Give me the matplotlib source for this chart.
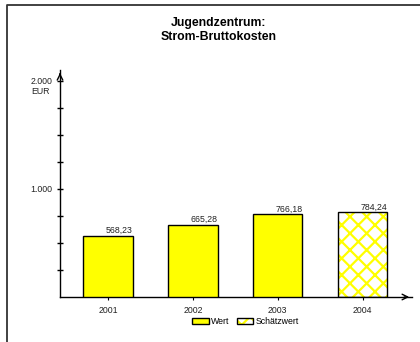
import matplotlib
matplotlib.use('Agg')
import matplotlib.pyplot as plt
from matplotlib.patches import Patch
from matplotlib.lines import Line2D
from matplotlib.legend_handler import HandlerTuple

# Daten
years = ['2001', '2002', '2003', '2004']
values = [568.23, 665.28, 766.18, 784.24]
estimated = [False, False, False, True]
value_labels = ['568,23', '665,28', '766,18', '784,24']
ytick_values = [1000, 2000]
ytick_labels = ['1.000', '2.000']


def main():
    plt.rcParams['font.family'] = ['Liberation Sans', 'DejaVu Sans']
    plt.rcParams['hatch.linewidth'] = 1.6

    fig = plt.figure(figsize=(4.2, 3.42), dpi=100)
    ax = fig.add_axes([60 / 420, 45 / 342, 352 / 420, 226.8 / 342])

    # Rahmen um die Grafik (nur oben und links sichtbar)
    fx, fy = 7 / 420, 1 - 4.5 / 342
    fig.add_artist(Line2D([fx, fx, 1.0], [0, fy, fy], transform=fig.transFigure,
                          color='#333333', lw=1.3))

    x = list(range(len(years)))
    width = 0.58
    for xi, v, est in zip(x, values, estimated):
        if est:
            ax.bar(xi, v, width, color='white', hatch='xx',
                   edgecolor='#ffff00', linewidth=0, zorder=2)
            ax.bar(xi, v, width, fill=False, edgecolor='black',
                   linewidth=1.0, zorder=3)
        else:
            ax.bar(xi, v, width, color='#ffff00', edgecolor='black',
                   linewidth=1.0, zorder=3)

    for xi, v, lab in zip(x, values, value_labels):
        ax.text(xi + width / 2, v + 8, lab, ha='right', va='bottom',
                fontsize=6.3, color='#222222')

    ax.set_xlim(-0.565, 3.58)
    ax.set_ylim(0, 2100)

    # Achsen
    for s in ['top', 'right']:
        ax.spines[s].set_visible(False)
    ax.spines['left'].set_linewidth(1.0)
    ax.spines['bottom'].set_linewidth(1.0)

    ax.set_xticks(x)
    ax.set_xticklabels(years, fontsize=6.3, color='#222222')
    ax.tick_params(axis='x', direction='out', length=2.5, pad=4)

    ax.set_yticks(ytick_values)
    ax.set_yticklabels(ytick_labels, fontsize=6.3, color='#222222')
    ax.set_yticks(range(250, 2000, 250), minor=True)
    ax.tick_params(axis='y', which='both', direction='inout', length=5,
                   width=1.0, pad=3)
    ax.text(-0.03, 1900, 'EUR', transform=ax.get_yaxis_transform(),
            ha='right', va='center', fontsize=6.3, color='#222222')

    # Pfeilspitzen
    ax.annotate('', xy=(1.0, 0), xytext=(0.97, 0), xycoords='axes fraction',
                arrowprops=dict(arrowstyle='->', lw=1.0, color='black'))
    ax.annotate('', xy=(0, 1.0), xytext=(0, 0.97), xycoords='axes fraction',
                arrowprops=dict(arrowstyle='->', lw=1.0, color='black'))

    # Titel
    fig.text(219 / 420, 1 - 23 / 342, 'Jugendzentrum:', ha='center',
             va='center', fontsize=8.8, fontweight='bold')
    fig.text(219 / 420, 1 - 37 / 342, 'Strom-Bruttokosten', ha='center',
             va='center', fontsize=8.8, fontweight='bold')

    # Legende
    h_wert = Patch(facecolor='#ffff00', edgecolor='black', lw=1.0)
    h_est = (Patch(facecolor='white', edgecolor='#ffff00', hatch='xx', lw=0),
             Patch(fill=False, edgecolor='black', lw=1.0))
    fig.legend([h_wert, h_est], ['Wert', 'Schätzwert'],
               handler_map={tuple: HandlerTuple(ndivide=1)},
               loc='center', bbox_to_anchor=(245.5 / 420, 1 - 321.5 / 342),
               ncol=2, frameon=False, fontsize=6.3, handlelength=1.9,
               handleheight=0.7, handletextpad=0.3, columnspacing=0.8,
               borderpad=0)

    plt.savefig('out.png', dpi=100)


if __name__ == '__main__':
    main()
